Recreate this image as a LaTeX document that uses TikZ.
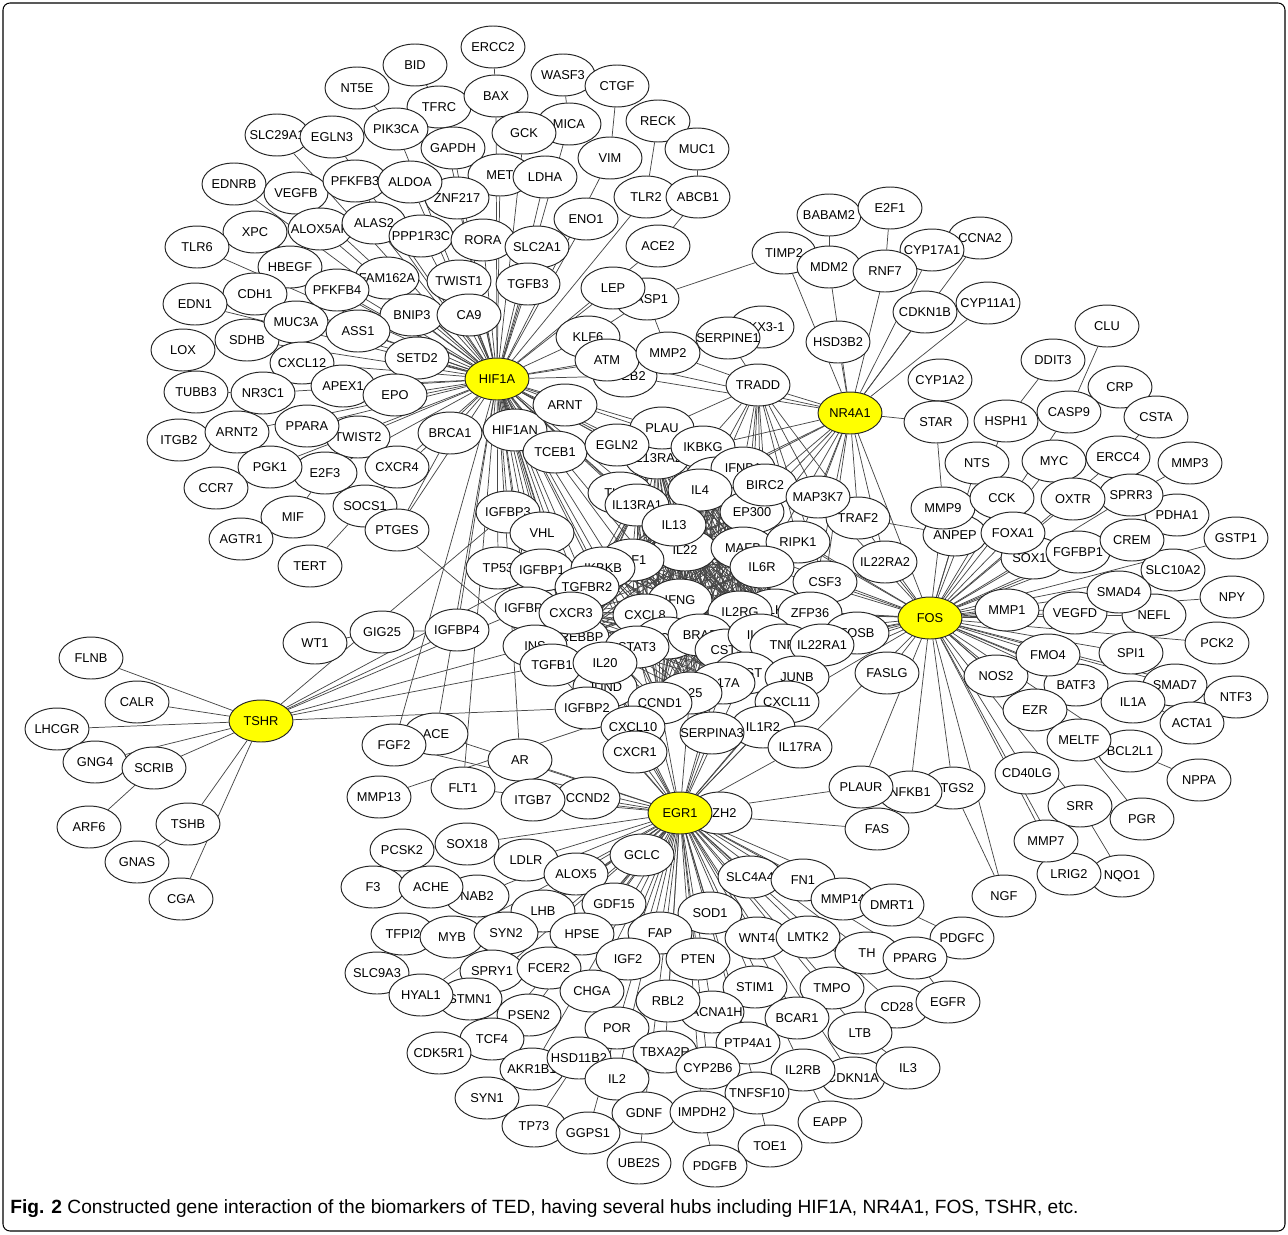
\documentclass[tikz,border=0pt]{standalone}
\usepackage{fontspec}
\usepackage{tikz}
\usepackage{xcolor}
\usetikzlibrary{shapes.geometric}
\setmainfont{Liberation Sans}
\newfontfamily\genefont{Liberation Sans}
\definecolor{hubyellow}{HTML}{FFFF00}
\pgfdeclarelayer{edges}
\pgfsetlayers{edges,main}
\tikzset{
  gene/.style={ellipse, draw=black!85, fill=white, line width=0.55pt,
    minimum width=1.28cm, minimum height=0.84cm, inner sep=0pt,
    font=\genefont\fontsize{7.3}{8}\selectfont,
    execute at begin node={\hbox to 0pt\bgroup\hss},
    execute at end node={\hss\egroup}},
  hub/.style={gene, fill=hubyellow},
  link/.style={draw=black!72, line width=0.42pt}
}
\begin{document}
\begin{tikzpicture}[x=0.02cm, y=-0.02cm]
    \useasboundingbox (0,0) rectangle (1288,1234);
    \draw[line width=0.6pt, rounded corners=4pt] (3,3) rectangle (1285,1231);

    % HIF1A cluster
    \node[gene] (ERCC2) at (493,47) {ERCC2};
    \node[gene] (BID) at (415,65) {BID};
    \node[gene] (WASF3) at (563,75) {WASF3};
    \node[gene] (CTGF) at (617,86) {CTGF};
    \node[gene] (NT5E) at (357,88) {NT5E};
    \node[gene] (TFRC) at (439,107) {TFRC};
    \node[gene] (BAX) at (496,96) {BAX};
    \node[gene] (MICA) at (569,124) {MICA};
    \node[gene] (RECK) at (658,121) {RECK};
    \node[gene] (GCK) at (524,133) {GCK};
    \node[gene] (SLC29A1) at (277,135) {SLC29A1};
    \node[gene] (EGLN3) at (332,137) {EGLN3};
    \node[gene] (PIK3CA) at (396,129) {PIK3CA};
    \node[gene] (GAPDH) at (453,148) {GAPDH};
    \node[gene] (MUC1) at (697,149) {MUC1};
    \node[gene] (VIM) at (610,158) {VIM};
    \node[gene] (MET) at (500,175) {MET};
    \node[gene] (LDHA) at (545,177) {LDHA};
    \node[gene] (EDNRB) at (234,184) {EDNRB};
    \node[gene] (VEGFB) at (296,193) {VEGFB};
    \node[gene] (PFKFB3) at (355,181) {PFKFB3};
    \node[gene] (ZNF217) at (457,198) {ZNF217};
    \node[gene] (ALDOA) at (410,182) {ALDOA};
    \node[gene] (TLR2) at (646,197) {TLR2};
    \node[gene] (ABCB1) at (698,197) {ABCB1};
    \node[gene] (ENO1) at (586,219) {ENO1};
    \node[gene] (ALOX5AP) at (320,229) {ALOX5AP};
    \node[gene] (ALAS2) at (374,223) {ALAS2};
    \node[gene] (XPC) at (255,232) {XPC};
    \node[gene] (TLR6) at (197,247) {TLR6};
    \node[gene] (PPP1R3C) at (421,236) {PPP1R3C};
    \node[gene] (RORA) at (483,240) {RORA};
    \node[gene] (SLC2A1) at (537,247) {SLC2A1};
    \node[gene] (ACE2) at (658,246) {ACE2};
    \node[gene] (FAM162A) at (387,278) {FAM162A};
    \node[gene] (HBEGF) at (290,267) {HBEGF};
    \node[gene] (TWIST1) at (459,281) {TWIST1};
    \node[gene] (TGFB3) at (528,284) {TGFB3};
    \node[gene] (CASP1) at (647,299) {CASP1};
    \node[gene] (LEP) at (613,288) {LEP};
    \node[gene] (CDH1) at (255,294) {CDH1};
    \node[gene] (PFKFB4) at (337,290) {PFKFB4};
    \node[gene] (EDN1) at (195,304) {EDN1};
    \node[gene] (BNIP3) at (412,315) {BNIP3};
    \node[gene] (CA9) at (469,315) {CA9};
    \node[gene] (SDHB) at (247,340) {SDHB};
    \node[gene] (MUC3A) at (296,322) {MUC3A};
    \node[gene] (ASS1) at (358,331) {ASS1};
    \node[gene] (KLF6) at (588,337) {KLF6};
    \node[gene] (LOX) at (183,350) {LOX};
    \node[gene] (SETD2) at (417,358) {SETD2};
    \node[gene] (CXCL12) at (302,363) {CXCL12};
    \node[gene] (TCEB2) at (625,376) {TCEB2};
    \node[gene] (ATM) at (607,360) {ATM};
    \node[gene] (APEX1) at (343,386) {APEX1};
    \node[gene] (EPO) at (395,395) {EPO};
    \node[gene] (TUBB3) at (196,392) {TUBB3};
    \node[gene] (NR3C1) at (263,393) {NR3C1};
    \node[hub] (HIF1A) at (497,379) {HIF1A};
    \node[gene] (ITGB2) at (179,440) {ITGB2};
    \node[gene] (ARNT2) at (237,432) {ARNT2};
    \node[gene] (TWIST2) at (358,437) {TWIST2};
    \node[gene] (PPARA) at (307,426) {PPARA};
    \node[gene] (BRCA1) at (450,433) {BRCA1};
    \node[gene] (E2F3) at (325,473) {E2F3};
    \node[gene] (PGK1) at (270,467) {PGK1};
    \node[gene] (CXCR4) at (397,467) {CXCR4};
    \node[gene] (CCR7) at (216,488) {CCR7};
    \node[gene] (SOCS1) at (365,506) {SOCS1};
    \node[gene] (PTGES) at (397,530) {PTGES};
    \node[gene] (MIF) at (293,517) {MIF};
    \node[gene] (AGTR1) at (241,539) {AGTR1};
    \node[gene] (TERT) at (310,566) {TERT};

    % NR4A1 cluster
    \node[gene] (BABAM2) at (829,215) {BABAM2};
    \node[gene] (E2F1) at (890,208) {E2F1};
    \node[gene] (CCNA2) at (980,238) {CCNA2};
    \node[gene] (TIMP2) at (784,253) {TIMP2};
    \node[gene] (CYP17A1) at (932,250) {CYP17A1};
    \node[gene] (MDM2) at (829,267) {MDM2};
    \node[gene] (RNF7) at (885,271) {RNF7};
    \node[gene] (CYP11A1) at (988,303) {CYP11A1};
    \node[gene] (CDKN1B) at (925,312) {CDKN1B};
    \node[gene] (NKX31) at (762,327) {NKX3-1};
    \node[gene] (SERPINE1) at (728,338) {SERPINE1};
    \node[gene] (MMP2) at (668,353) {MMP2};
    \node[gene] (HSD3B2) at (838,342) {HSD3B2};
    \node[gene] (CYP1A2) at (940,380) {CYP1A2};
    \node[gene] (TRADD) at (758,385) {TRADD};
    \node[hub] (NR4A1) at (850,413) {NR4A1};
    \node[gene] (STAR) at (936,422) {STAR};

    % FOS cluster
    \node[gene] (CLU) at (1107,326) {CLU};
    \node[gene] (DDIT3) at (1053,360) {DDIT3};
    \node[gene] (CRP) at (1120,387) {CRP};
    \node[gene] (CASP9) at (1069,412) {CASP9};
    \node[gene] (CSTA) at (1156,417) {CSTA};
    \node[gene] (HSPH1) at (1006,421) {HSPH1};
    \node[gene] (NTS) at (977,463) {NTS};
    \node[gene] (MYC) at (1054,461) {MYC};
    \node[gene] (ERCC4) at (1118,457) {ERCC4};
    \node[gene] (MMP3) at (1190,463) {MMP3};
    \node[gene] (PDHA1) at (1177,515) {PDHA1};
    \node[gene] (SPRR3) at (1131,495) {SPRR3};
    \node[gene] (OXTR) at (1073,499) {OXTR};
    \node[gene] (ANPEP) at (955,535) {ANPEP};
    \node[gene] (MMP9) at (943,508) {MMP9};
    \node[gene] (CCK) at (1002,498) {CCK};
    \node[gene] (SOX10) at (1033,558) {SOX10};
    \node[gene] (FOXA1) at (1013,533) {FOXA1};
    \node[gene] (GSTP1) at (1236,538) {GSTP1};
    \node[gene] (SLC10A2) at (1173,570) {SLC10A2};
    \node[gene] (FGFBP1) at (1078,552) {FGFBP1};
    \node[gene] (CREM) at (1132,540) {CREM};
    \node[gene] (NPY) at (1232,597) {NPY};
    \node[gene] (NEFL) at (1154,615) {NEFL};
    \node[gene] (VEGFD) at (1075,613) {VEGFD};
    \node[gene] (SMAD4) at (1119,592) {SMAD4};
    \node[gene] (MMP1) at (1007,610) {MMP1};
    \node[gene] (PCK2) at (1217,643) {PCK2};
    \node[gene] (SPI1) at (1131,653) {SPI1};
    \node[gene] (NOS2) at (996,676) {NOS2};
    \node[gene] (BATF3) at (1076,685) {BATF3};
    \node[gene] (FMO4) at (1048,655) {FMO4};
    \node[gene] (SMAD7) at (1175,685) {SMAD7};
    \node[gene] (NTF3) at (1236,697) {NTF3};
    \node[gene] (ACTA1) at (1192,723) {ACTA1};
    \node[gene] (IL1A) at (1133,702) {IL1A};
    \node[gene] (EZR) at (1035,710) {EZR};
    \node[gene] (BCL2L1) at (1130,751) {BCL2L1};
    \node[gene] (MELTF) at (1079,740) {MELTF};
    \node[gene] (NPPA) at (1199,780) {NPPA};
    \node[gene] (CD40LG) at (1027,773) {CD40LG};
    \node[gene] (PGR) at (1142,819) {PGR};
    \node[gene] (SRR) at (1080,806) {SRR};
    \node[gene] (NQO1) at (1122,876) {NQO1};
    \node[gene] (LRIG2) at (1069,874) {LRIG2};
    \node[gene] (MMP7) at (1046,841) {MMP7};
    \node[gene] (NGF) at (1004,896) {NGF};

    % TSHR cluster
    \node[gene] (FLNB) at (91,658) {FLNB};
    \node[gene] (CALR) at (137,702) {CALR};
    \node[gene] (LHCGR) at (57,729) {LHCGR};
    \node[hub] (TSHR) at (261,721) {TSHR};
    \node[gene] (GNG4) at (95,762) {GNG4};
    \node[gene] (SCRIB) at (154,768) {SCRIB};
    \node[gene] (ARF6) at (89,827) {ARF6};
    \node[gene] (GNAS) at (137,862) {GNAS};
    \node[gene] (TSHB) at (188,824) {TSHB};
    \node[gene] (CGA) at (181,899) {CGA};
    \node[gene] (WT1) at (315,643) {WT1};
    \node[gene] (GIG25) at (382,632) {GIG25};
    \node[gene] (IGFBP4) at (457,630) {IGFBP4};

    % centre
    \node[gene] (HIF1AN) at (515,430) {HIF1AN};
    \node[gene] (ARNT) at (565,405) {ARNT};
    \node[gene] (TCEB1) at (555,452) {TCEB1};
    \node[gene] (IL13RA2) at (657,458) {IL13RA2};
    \node[gene] (PLAU) at (662,428) {PLAU};
    \node[gene] (EGLN2) at (617,445) {EGLN2};
    \node[gene] (IKBKG) at (703,447) {IKBKG};
    \node[gene] (IL10) at (717,478) {IL10};
    \node[gene] (IFNB1) at (743,468) {IFNB1};
    \node[gene] (IL4) at (700,490) {IL4};
    \node[gene] (EP300) at (752,512) {EP300};
    \node[gene] (BIRC2) at (765,485) {BIRC2};
    \node[gene] (TLR4) at (620,493) {TLR4};
    \node[gene] (IL13RA1) at (637,505) {IL13RA1};
    \node[gene] (IGFBP3) at (508,512) {IGFBP3};
    \node[gene] (VHL) at (542,533) {VHL};
    \node[gene] (IL22) at (685,550) {IL22};
    \node[gene] (IL13) at (674,525) {IL13};
    \node[gene] (MAFB) at (743,548) {MAFB};
    \node[gene] (TRAF2) at (858,518) {TRAF2};
    \node[gene] (MAP3K7) at (818,497) {MAP3K7};
    \node[gene] (RIPK1) at (798,542) {RIPK1};
    \node[gene] (IL22RA2) at (885,562) {IL22RA2};
    \node[gene] (TP53) at (498,568) {TP53};
    \node[gene] (IGFBP1) at (542,570) {IGFBP1};
    \node[gene] (IGF1) at (632,560) {IGF1};
    \node[gene] (IKBKB) at (603,568) {IKBKB};
    \node[gene] (TGFBR2) at (587,587) {TGFBR2};
    \node[gene] (IL6R) at (762,567) {IL6R};
    \node[gene] (CSF3) at (825,582) {CSF3};
    \node[gene] (IGFBP5) at (527,608) {IGFBP5};
    \node[gene] (CREBBP) at (577,637) {CREBBP};
    \node[gene] (CXCR3) at (571,613) {CXCR3};
    \node[gene] (IFNG) at (680,600) {IFNG};
    \node[gene] (CXCL8) at (645,615) {CXCL8};
    \node[gene] (ELK1) at (775,610) {ELK1};
    \node[gene] (IL2RG) at (740,612) {IL2RG};
    \node[gene] (ZFP36) at (810,613) {ZFP36};
    \node[gene] (FOSB) at (857,633) {FOSB};
    \node[gene] (INS) at (535,646) {INS};
    \node[gene] (TGFB1) at (552,665) {TGFB1};
    \node[gene] (CCL4) at (667,638) {CCL4};
    \node[gene] (BRAF) at (700,635) {BRAF};
    \node[gene] (STAT3) at (637,647) {STAT3};
    \node[gene] (CST3) at (727,650) {CST3};
    \node[gene] (IL1B) at (760,635) {IL1B};
    \node[gene] (TNF) at (782,645) {TNF};
    \node[gene] (IL22RA1) at (822,645) {IL22RA1};
    \node[gene] (IL6ST) at (745,673) {IL6ST};
    \node[gene] (IL17A) at (723,683) {IL17A};
    \node[gene] (IL25) at (690,693) {IL25};
    \node[gene] (JUNB) at (797,677) {JUNB};
    \node[gene] (CXCL11) at (787,702) {CXCL11};
    \node[gene] (JUND) at (605,687) {JUND};
    \node[gene] (IL20) at (605,663) {IL20};
    \node[gene] (CCND1) at (660,703) {CCND1};
    \node[gene] (IGFBP2) at (587,708) {IGFBP2};
    \node[gene] (IL1R2) at (763,727) {IL1R2};
    \node[gene] (CXCL10) at (633,727) {CXCL10};
    \node[gene] (SERPINA3) at (712,733) {SERPINA3};
    \node[gene] (IL17RA) at (800,747) {IL17RA};
    \node[gene] (CXCR1) at (635,752) {CXCR1};
    \node[hub] (FOS) at (930,618) {FOS};
    \node[gene] (FASLG) at (887,673) {FASLG};

    % EGR1 cluster
    \node[gene] (ACE) at (436,734) {ACE};
    \node[gene] (FGF2) at (394,745) {FGF2};
    \node[gene] (AR) at (520,760) {AR};
    \node[gene] (MMP13) at (379,797) {MMP13};
    \node[gene] (FLT1) at (463,788) {FLT1};
    \node[gene] (CCND2) at (588,798) {CCND2};
    \node[gene] (ITGB7) at (533,800) {ITGB7};
    \node[gene] (EZH2) at (720,813) {EZH2};
    \node[hub] (EGR1) at (680,813) {EGR1};
    \node[gene] (PTGS2) at (953,788) {PTGS2};
    \node[gene] (NFKB1) at (910,792) {NFKB1};
    \node[gene] (PLAUR) at (861,787) {PLAUR};
    \node[gene] (FAS) at (877,829) {FAS};
    \node[gene] (PCSK2) at (402,850) {PCSK2};
    \node[gene] (SOX18) at (467,844) {SOX18};
    \node[gene] (LDLR) at (526,860) {LDLR};
    \node[gene] (GCLC) at (642,855) {GCLC};
    \node[gene] (ALOX5) at (576,874) {ALOX5};
    \node[gene] (F3) at (373,887) {F3};
    \node[gene] (NAB2) at (477,896) {NAB2};
    \node[gene] (ACHE) at (431,887) {ACHE};
    \node[gene] (LHB) at (543,911) {LHB};
    \node[gene] (GDF15) at (614,904) {GDF15};
    \node[gene] (SLC4A4) at (750,877) {SLC4A4};
    \node[gene] (FN1) at (803,880) {FN1};
    \node[gene] (MMP14) at (843,899) {MMP14};
    \node[gene] (DMRT1) at (892,905) {DMRT1};
    \node[gene] (SOD1) at (710,913) {SOD1};
    \node[gene] (TFPI2) at (403,934) {TFPI2};
    \node[gene] (MYB) at (452,937) {MYB};
    \node[gene] (SYN2) at (506,933) {SYN2};
    \node[gene] (HPSE) at (582,934) {HPSE};
    \node[gene] (FAP) at (660,933) {FAP};
    \node[gene] (WNT4) at (757,938) {WNT4};
    \node[gene] (LMTK2) at (808,937) {LMTK2};
    \node[gene] (PDGFC) at (962,938) {PDGFC};
    \node[gene] (TH) at (867,953) {TH};
    \node[gene] (PPARG) at (915,958) {PPARG};
    \node[gene] (IGF2) at (628,959) {IGF2};
    \node[gene] (PTEN) at (698,959) {PTEN};
    \node[gene] (SLC9A3) at (377,973) {SLC9A3};
    \node[gene] (SPRY1) at (492,971) {SPRY1};
    \node[gene] (FCER2) at (549,968) {FCER2};
    \node[gene] (STIM1) at (755,987) {STIM1};
    \node[gene] (TMPO) at (832,988) {TMPO};
    \node[gene] (STMN1) at (470,999) {STMN1};
    \node[gene] (HYAL1) at (421,995) {HYAL1};
    \node[gene] (CHGA) at (592,991) {CHGA};
    \node[gene] (CACNA1H) at (712,1012) {CACNA1H};
    \node[gene] (RBL2) at (668,1001) {RBL2};
    \node[gene] (CD28) at (897,1007) {CD28};
    \node[gene] (EGFR) at (948,1002) {EGFR};
    \node[gene] (PSEN2) at (529,1015) {PSEN2};
    \node[gene] (BCAR1) at (797,1018) {BCAR1};
    \node[gene] (POR) at (617,1028) {POR};
    \node[gene] (LTB) at (860,1033) {LTB};
    \node[gene] (TCF4) at (492,1039) {TCF4};
    \node[gene] (PTP4A1) at (748,1043) {PTP4A1};
    \node[gene] (CDK5R1) at (439,1053) {CDK5R1};
    \node[gene] (AKR1B1) at (532,1069) {AKR1B1};
    \node[gene] (HSD11B2) at (579,1058) {HSD11B2};
    \node[gene] (TBXA2R) at (665,1052) {TBXA2R};
    \node[gene] (CYP2B6) at (708,1068) {CYP2B6};
    \node[gene] (CDKN1A) at (853,1078) {CDKN1A};
    \node[gene] (IL2RB) at (803,1070) {IL2RB};
    \node[gene] (IL3) at (908,1068) {IL3};
    \node[gene] (IL2) at (617,1079) {IL2};
    \node[gene] (TNFSF10) at (757,1093) {TNFSF10};
    \node[gene] (SYN1) at (487,1098) {SYN1};
    \node[gene] (GDNF) at (644,1113) {GDNF};
    \node[gene] (IMPDH2) at (702,1112) {IMPDH2};
    \node[gene] (EAPP) at (830,1122) {EAPP};
    \node[gene] (TP73) at (534,1126) {TP73};
    \node[gene] (GGPS1) at (588,1133) {GGPS1};
    \node[gene] (TOE1) at (770,1146) {TOE1};
    \node[gene] (UBE2S) at (639,1163) {UBE2S};
    \node[gene] (PDGFB) at (715,1166) {PDGFB};

    % Caption
    \node[anchor=base west, inner sep=0pt, font=\fontsize{10.9}{12}\selectfont] (caption) at (10,1213)
        {\textbf{Fig. 2} Constructed gene interaction of the biomarkers of TED, having several hubs including HIF1A, NR4A1, FOS, TSHR, etc.};

    \begin{pgfonlayer}{edges}
    % HIF1A hub
    \foreach \n in {BAX,TFRC,PIK3CA,GCK,MICA,GAPDH,MET,LDHA,VIM,ENO1,TLR2,SLC2A1,EGLN3,SLC29A1,
        PFKFB3,ALDOA,ZNF217,EDNRB,VEGFB,ALOX5AP,ALAS2,PPP1R3C,RORA,TGFB3,TWIST1,FAM162A,HBEGF,
        XPC,TLR6,CDH1,PFKFB4,EDN1,MUC3A,ASS1,BNIP3,CA9,SDHB,CXCL12,SETD2,APEX1,EPO,NR3C1,ARNT2,
        PPARA,TWIST2,BRCA1,PGK1,E2F3,CXCR4,ATM,TCEB2,KLF6,LEP,ACE2,MMP2,IGFBP4,FGF2,ACE,FLT1,AR,
        PTGES,SOCS1,ARNT,HIF1AN,TCEB1,EGLN2,PLAU,IL13RA2,IGFBP3,VHL,TP53,IGFBP1,IGF1,IKBKB,
        TGFBR2,IGFBP5,CXCR3,CREBBP,INS,STAT3,TGFB1,JUND,IGFBP2,EP300,IL13,IL4,IL22,IFNG,CXCL8,
        CCND1,CXCL10,IL13RA1,TLR4,IKBKG}
        \draw[link] (HIF1A) -- (\n);

    % NR4A1 hub
    \foreach \n in {TIMP2,MDM2,RNF7,HSD3B2,CDKN1B,CYP17A1,CYP11A1,CCNA2,STAR,TRADD,MAP3K7,TRAF2,
        RIPK1,BIRC2,IKBKG,IFNB1,IL10,EP300,IL22RA2,IL6R,CSF3,MAFB,ZFP36,FOS,TCEB2,ATM}
        \draw[link] (NR4A1) -- (\n);
    \foreach \n in {IKBKG,BIRC2,MAP3K7,RIPK1,TRAF2,IL10,IFNB1,EP300,IL6R,CSF3,MAFB,PLAU,IL4}
        \draw[link] (TRADD) -- (\n);

    % FOS hub
    \foreach \n in {HSPH1,NTS,MYC,CASP9,ERCC4,SPRR3,OXTR,CCK,MMP9,ANPEP,FOXA1,SOX10,FGFBP1,CREM,
        PDHA1,GSTP1,SLC10A2,SMAD4,NPY,MMP1,VEGFD,NEFL,PCK2,FMO4,SPI1,NOS2,BATF3,SMAD7,NTF3,IL1A,
        EZR,ACTA1,MELTF,BCL2L1,CD40LG,SRR,MMP7,LRIG2,NGF,NFKB1,PTGS2,PLAUR,FASLG,IL22RA2,CSF3,
        ZFP36,FOSB,IL22RA1,JUNB,TRAF2,MAP3K7,RIPK1,IL6R,TNF,IL1B,IL2RG,ELK1,CXCL11,IL17RA,EP300,
        MAFB,IL17A}
        \draw[link] (FOS) -- (\n);

    % EGR1 hub
    \foreach \n in {EZH2,PLAUR,FAS,AR,ITGB7,CCND2,FLT1,FGF2,ACE,SOX18,LDLR,GCLC,ALOX5,NAB2,LHB,
        GDF15,SLC4A4,FN1,MMP14,DMRT1,SOD1,MYB,SYN2,HPSE,FAP,WNT4,LMTK2,TH,PPARG,IGF2,PTEN,SPRY1,
        FCER2,STIM1,TMPO,STMN1,CHGA,RBL2,CACNA1H,CD28,PSEN2,BCAR1,POR,LTB,TCF4,PTP4A1,HSD11B2,
        TBXA2R,AKR1B1,CYP2B6,IL2RB,CDKN1A,IL2,TNFSF10,GDNF,IMPDH2,HYAL1,CXCR1,CXCL10,SERPINA3,
        IL1R2,CCND1,IGFBP2,JUND,IL17RA,CXCL11,IL25,IL17A,CST3,STAT3,IL20,TGFB1,IL6ST,JUNB,IL22RA1}
        \draw[link] (EGR1) -- (\n);

    % TSHR hub
    \foreach \n in {FLNB,CALR,LHCGR,GNG4,SCRIB,TSHB,CGA,IGFBP4,IGFBP5,IGFBP1,IGFBP3,INS,TGFB1,IGFBP2}
        \draw[link] (TSHR) -- (\n);

    % single links
    \foreach \a/\b in {ERCC2/BAX,BID/TFRC,NT5E/PIK3CA,WASF3/MICA,CTGF/VIM,RECK/TLR2,MUC1/ABCB1,
        ABCB1/ACE2,CASP1/TIMP2,KLF6/CASP1,CASP1/MMP2,LOX/SDHB,TUBB3/NR3C1,ITGB2/ARNT2,CCR7/PGK1,
        MIF/E2F3,AGTR1/MIF,TERT/SOCS1,PTGES/BRCA1,PTGES/INS,WT1/GIG25,GIG25/IGFBP4,BABAM2/MDM2,
        E2F1/RNF7,MMP2/TRADD,SERPINE1/TRADD,NKX31/SERPINE1,STAR/MMP9,CLU/CASP9,DDIT3/HSPH1,
        CRP/CASP9,CSTA/ERCC4,MMP3/SPRR3,NPPA/BCL2L1,PGR/MELTF,NQO1/SRR,ANPEP/TRAF2,ARF6/SCRIB,
        GNAS/TSHB,F3/ACHE,ACHE/NAB2,PCSK2/SOX18,TFPI2/MYB,SLC9A3/HYAL1,CDK5R1/TCF4,SYN1/AKR1B1,
        TP73/HSD11B2,GGPS1/POR,UBE2S/GDNF,PDGFB/IMPDH2,TOE1/TNFSF10,EAPP/IL2RB,IL3/LTB,
        EGFR/PPARG,PDGFC/DMRT1,NGF/PTGS2,MMP13/CCND1}
        \draw[link] (\a) -- (\b);

    % dense core
    \foreach \a [count=\i] in {IL4,IL13,IL13RA1,IL13RA2,IL22,IFNG,CXCL8,STAT3,IL2RG,IL1B,TNF,
        IL6R,EP300,MAFB,CST3,IL17A,IL25,CCND1,CCL4,BRAF,IL10,IFNB1,IL6ST,IKBKB,IGF1,ELK1,CXCR3,CREBBP}
      \foreach \b [count=\j] in {IL4,IL13,IL13RA1,IL13RA2,IL22,IFNG,CXCL8,STAT3,IL2RG,IL1B,TNF,
        IL6R,EP300,MAFB,CST3,IL17A,IL25,CCND1,CCL4,BRAF,IL10,IFNB1,IL6ST,IKBKB,IGF1,ELK1,CXCR3,CREBBP}
        {\ifnum\j>\i \draw[link] (\a) -- (\b);\fi}
    \end{pgfonlayer}
\end{tikzpicture}
\end{document}
